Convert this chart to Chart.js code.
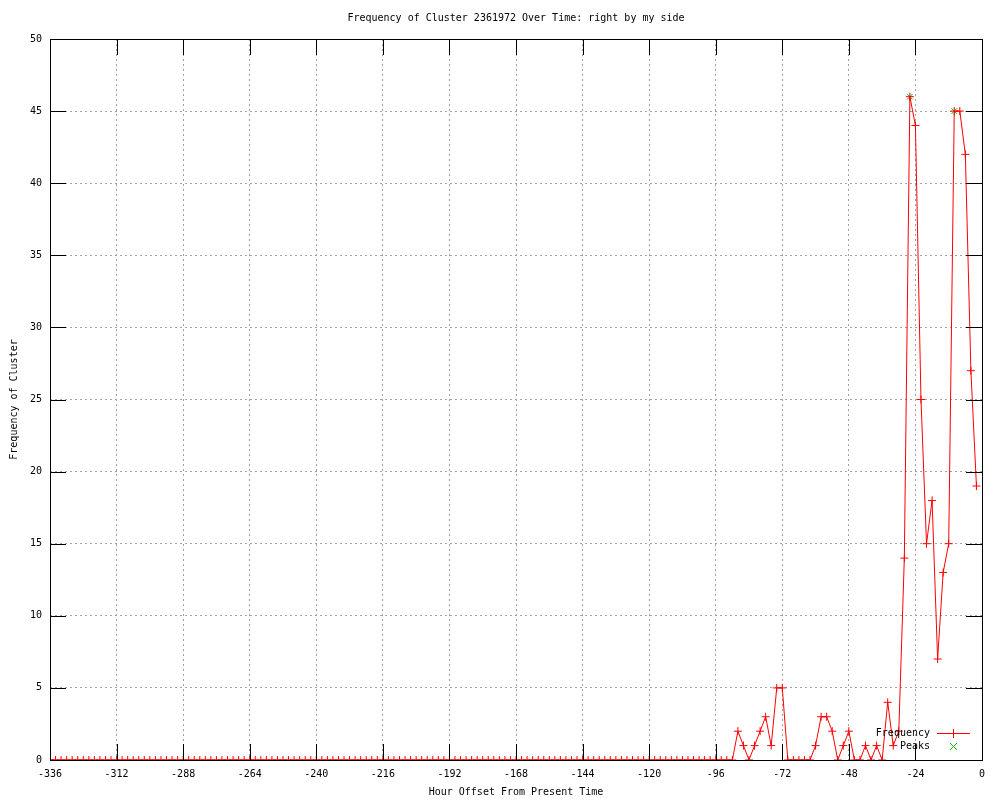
<!DOCTYPE html>
<html>
<head>
<meta charset="utf-8">
<script src="https://cdn.jsdelivr.net/npm/chart.js@4/dist/chart.umd.min.js"></script>
<style>
  html, body { margin: 0; padding: 0; background: #fff; }
  #wrap { width: 1000px; height: 800px; }
</style>
</head>
<body>
<div id="wrap"><canvas id="chart" width="1000" height="800"></canvas></div>
<script>
const TITLE   = 'Frequency of Cluster 2361972 Over Time: right by my side';
const X_TITLE = 'Hour Offset From Present Time';
const Y_TITLE = 'Frequency of Cluster';

// hour offsets, one sample every 2 hours
const hours = [
    -336, -334, -332, -330, -328, -326, -324, -322, -320, -318, -316, -314,
    -312, -310, -308, -306, -304, -302, -300, -298, -296, -294, -292, -290,
    -288, -286, -284, -282, -280, -278, -276, -274, -272, -270, -268, -266,
    -264, -262, -260, -258, -256, -254, -252, -250, -248, -246, -244, -242,
    -240, -238, -236, -234, -232, -230, -228, -226, -224, -222, -220, -218,
    -216, -214, -212, -210, -208, -206, -204, -202, -200, -198, -196, -194,
    -192, -190, -188, -186, -184, -182, -180, -178, -176, -174, -172, -170,
    -168, -166, -164, -162, -160, -158, -156, -154, -152, -150, -148, -146,
    -144, -142, -140, -138, -136, -134, -132, -130, -128, -126, -124, -122,
    -120, -118, -116, -114, -112, -110, -108, -106, -104, -102, -100,  -98,
     -96,  -94,  -92,  -90,  -88,  -86,  -84,  -82,  -80,  -78,  -76,  -74,
     -72,  -70,  -68,  -66,  -64,  -62,  -60,  -58,  -56,  -54,  -52,  -50,
     -48,  -46,  -44,  -42,  -40,  -38,  -36,  -34,  -32,  -30,  -28,  -26,
     -24,  -22,  -20,  -18,  -16,  -14,  -12,  -10,   -8,   -6,   -4,   -2
];

const frequency = [
    0, 0, 0, 0, 0, 0, 0, 0, 0, 0, 0, 0,
    0, 0, 0, 0, 0, 0, 0, 0, 0, 0, 0, 0,
    0, 0, 0, 0, 0, 0, 0, 0, 0, 0, 0, 0,
    0, 0, 0, 0, 0, 0, 0, 0, 0, 0, 0, 0,
    0, 0, 0, 0, 0, 0, 0, 0, 0, 0, 0, 0,
    0, 0, 0, 0, 0, 0, 0, 0, 0, 0, 0, 0,
    0, 0, 0, 0, 0, 0, 0, 0, 0, 0, 0, 0,
    0, 0, 0, 0, 0, 0, 0, 0, 0, 0, 0, 0,
    0, 0, 0, 0, 0, 0, 0, 0, 0, 0, 0, 0,
    0, 0, 0, 0, 0, 0, 0, 0, 0, 0, 0, 0,
    0, 0, 0, 0, 2, 1, 0, 1, 2, 3, 1, 5,
    5, 0, 0, 0, 0, 0, 1, 3, 3, 2, 0, 1,
    2, 0, 0, 1, 0, 1, 0, 4, 1, 2, 14, 46,
    44, 25, 15, 18, 7, 13, 15, 45, 45, 42, 27, 19
];

const peakHours  = [-26, -10];
const peakValues = [46, 45];

const X_MIN = -336, X_MAX = 0, X_STEP = 24;
const Y_MIN = 0, Y_MAX = 50, Y_STEP = 5;

const RED   = '#ff0000';
const GREEN = '#00c000';
const FONT  = { family: '"DejaVu Sans Mono", monospace', size: 10 };
const TIC_LEN = 16;

Chart.defaults.color = '#000';
Chart.defaults.font.family = FONT.family;
Chart.defaults.font.size = FONT.size;

// gnuplot style: title over the plot box, full border, inward tics, key lower right
const gnuplotFrame = {
    id: 'gnuplotFrame',
    afterDatasetsDraw(chart) {
        const { ctx, chartArea: a, scales: { x, y } } = chart;
        ctx.save();
        ctx.setLineDash([]);
        ctx.lineWidth = 1;
        ctx.strokeStyle = '#000';
        ctx.beginPath();
        x.ticks.forEach(t => {
            const px = Math.round(x.getPixelForValue(t.value)) + 0.5;
            ctx.moveTo(px, a.bottom); ctx.lineTo(px, a.bottom - TIC_LEN);
            ctx.moveTo(px, a.top);    ctx.lineTo(px, a.top + TIC_LEN);
        });
        y.ticks.forEach(t => {
            const py = Math.round(y.getPixelForValue(t.value)) + 0.5;
            ctx.moveTo(a.left, py);  ctx.lineTo(a.left + TIC_LEN, py);
            ctx.moveTo(a.right, py); ctx.lineTo(a.right - TIC_LEN, py);
        });
        ctx.stroke();
        ctx.strokeRect(Math.round(a.left) + 0.5, Math.round(a.top) + 0.5,
                       Math.round(a.right - a.left), Math.round(a.bottom - a.top));

        ctx.font = FONT.size + 'px ' + FONT.family;
        ctx.fillStyle = '#000';
        ctx.textBaseline = 'middle';

        // title, centred on the plot box like gnuplot
        ctx.textAlign = 'center';
        ctx.fillText(TITLE, (a.left + a.right) / 2, 18);

        // key
        ctx.textAlign = 'right';
        const textX = a.right - 52, symX = a.right - 29;
        const ky1 = a.bottom - 27, ky2 = a.bottom - 14;
        ctx.fillText(chart.data.datasets[0].label, textX, ky1);
        ctx.fillText(chart.data.datasets[1].label, textX, ky2);

        ctx.strokeStyle = RED;
        ctx.beginPath();
        ctx.moveTo(symX - 16, ky1 + 0.5); ctx.lineTo(symX + 17, ky1 + 0.5);
        ctx.moveTo(symX + 0.5, ky1 - 4);  ctx.lineTo(symX + 0.5, ky1 + 5);
        ctx.stroke();

        ctx.strokeStyle = GREEN;
        ctx.beginPath();
        ctx.moveTo(symX - 3, ky2 - 3); ctx.lineTo(symX + 4, ky2 + 4);
        ctx.moveTo(symX - 3, ky2 + 4); ctx.lineTo(symX + 4, ky2 - 3);
        ctx.stroke();
        ctx.restore();
    }
};

new Chart(document.getElementById('chart'), {
    type: 'line',
    data: {
        datasets: [
            {
                label: 'Frequency',
                data: hours.map((h, i) => ({ x: h, y: frequency[i] })),
                borderColor: RED,
                backgroundColor: RED,
                borderWidth: 1,
                pointStyle: 'cross',
                pointRadius: 4,
                pointBorderColor: RED,
                pointBorderWidth: 1,
                tension: 0
            },
            {
                label: 'Peaks',
                data: peakHours.map((h, i) => ({ x: h, y: peakValues[i] })),
                showLine: false,
                borderColor: GREEN,
                backgroundColor: GREEN,
                pointStyle: 'crossRot',
                pointRadius: 4,
                pointBorderColor: GREEN,
                pointBorderWidth: 1
            }
        ]
    },
    options: {
        responsive: false,
        animation: false,
        layout: { padding: { left: 0, right: 18, top: 39, bottom: 0 } },
        plugins: {
            legend: { display: false },
            tooltip: { enabled: false },
            title: { display: false }
        },
        scales: {
            x: {
                type: 'linear',
                min: X_MIN, max: X_MAX,
                ticks: { stepSize: X_STEP, padding: 8, maxRotation: 0, autoSkip: false, color: '#000' },
                grid: { drawTicks: false, color: '#a0a0a0', lineWidth: 1 },
                border: { display: false, dash: [2, 3] },
                title: { display: true, text: X_TITLE, color: '#000', padding: { top: 0, bottom: 2 } },
                afterFit: s => { s.height = 40; }
            },
            y: {
                min: Y_MIN, max: Y_MAX,
                ticks: { stepSize: Y_STEP, padding: 8, color: '#000' },
                grid: { drawTicks: false, color: '#a0a0a0', lineWidth: 1 },
                border: { display: false, dash: [2, 3] },
                title: { display: true, text: Y_TITLE, color: '#000', padding: { top: 8, bottom: 0 } },
                afterFit: s => { s.width = 50; }
            }
        }
    },
    plugins: [gnuplotFrame]
});
</script>
</body>
</html>
